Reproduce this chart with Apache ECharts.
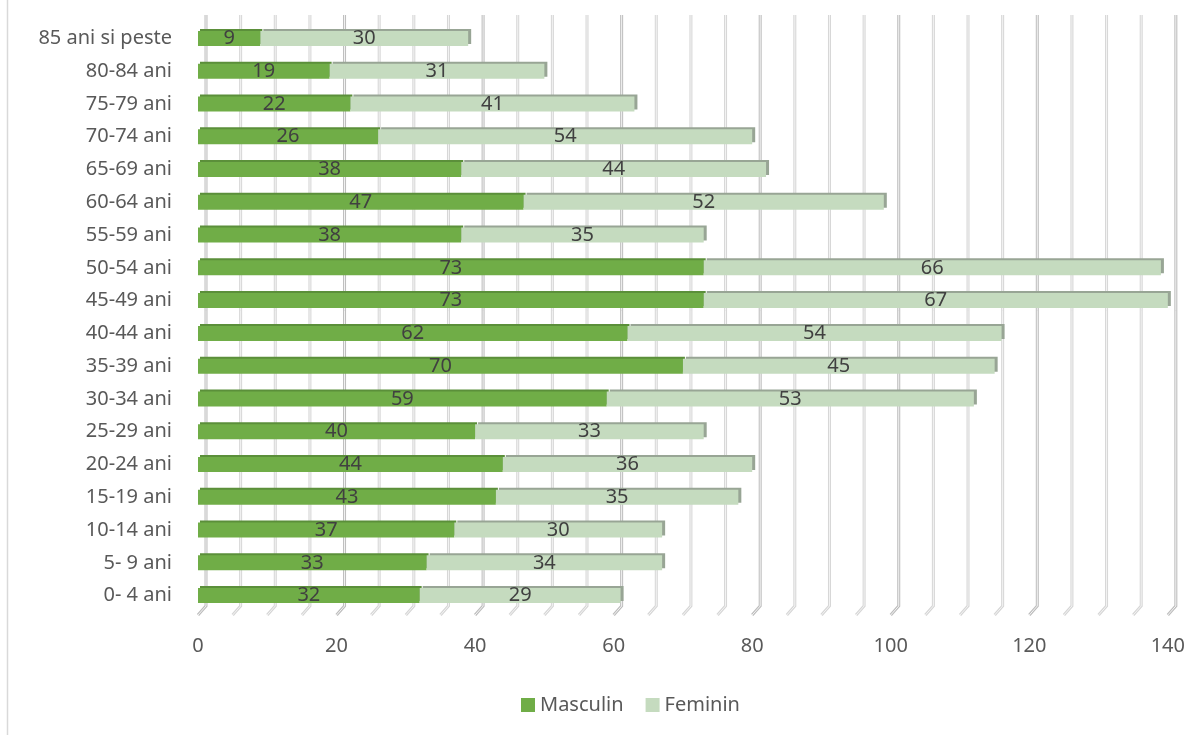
<!DOCTYPE html>
<html>
<head>
<meta charset="utf-8">
<script src="https://cdn.jsdelivr.net/npm/echarts@6/dist/echarts.min.js"></script>
<style>html,body{margin:0;padding:0;background:#fff}#c{width:1188px;height:735px}</style>
</head>
<body>
<div id="c"></div>
<script>
const categories = ["0- 4 ani","5- 9 ani","10-14 ani","15-19 ani","20-24 ani","25-29 ani","30-34 ani","35-39 ani","40-44 ani","45-49 ani","50-54 ani","55-59 ani","60-64 ani","65-69 ani","70-74 ani","75-79 ani","80-84 ani","85 ani si peste"];
const masculin = [32,33,37,43,44,40,59,70,62,73,73,38,47,38,26,22,19,9];
const feminin  = [29,34,30,35,36,33,53,45,54,67,66,35,52,44,54,41,31,30];
const gridTicks = [0,5,10,15,20,25,30,35,40,45,50,55,60,65,70,75,80,85,90,95,100,105,110,115,120,125,130,135,140];

const chart = echarts.init(document.getElementById('c'));
const font = "'Noto Sans', 'Open Sans', sans-serif";

chart.setOption({
  animation: false,
  textStyle: { fontFamily: font },
  graphic: [{
    type: 'line', shape: { x1: 7.5, y1: 0, x2: 7.5, y2: 735 },
    style: { stroke: '#d9d9d9', lineWidth: 1.5 }
  }],
  grid: { left: 198, right: 16, top: 22, bottom: 123, containLabel: false },
  legend: {
    left: 516, top: 690,
    icon: 'rect', itemWidth: 14, itemHeight: 14, itemGap: 22,
    textStyle: { fontSize: 20, color: '#595959', fontFamily: font },
    data: ['Masculin', 'Feminin']
  },
  xAxis: {
    type: 'value', min: 0, max: 140, interval: 20,
    axisLine: { show: false }, axisTick: { show: false },
    splitLine: { show: false },
    axisLabel: { fontSize: 20, color: '#595959', margin: 24, fontFamily: font }
  },
  yAxis: {
    type: 'category', data: categories,
    axisLine: { show: false }, axisTick: { show: false },
    axisLabel: { fontSize: 20, color: '#595959', margin: 26, fontFamily: font }
  },
  series: [
    {
      type: 'custom', name: 'grid3d', z: 1, silent: true,
      data: gridTicks.map(v => [v, 0]),
      encode: { x: 0, y: 1 },
      renderItem: function (params, api) {
        const v = api.value(0);
        const x = api.coord([v, 0])[0];
        const cs = params.coordSys;
        const yb = cs.y + cs.height + 3;
        const major = v % 20 === 0;
        const pts = [[x, yb], [x + 8, yb - 9], [x + 8, cs.y - 7]];
        return {
          type: 'group',
          children: [
            { type: 'polyline', shape: { points: pts }, style: { stroke: major ? '#bdbdbd' : '#d6d6d6', lineWidth: 3, fill: null } },
            { type: 'polyline', shape: { points: pts }, style: { stroke: '#f4f4f4', lineWidth: 1, fill: null } }
          ]
        };
      }
    },
    {
      name: 'Masculin', type: 'bar', stack: 'tot', z: 3, barWidth: 15,
      data: masculin,
      itemStyle: { color: '#70AD47', shadowColor: '#5b8f3a', shadowOffsetX: 2, shadowOffsetY: -2, shadowBlur: 0 },
      label: { show: true, position: 'inside', fontSize: 20, color: '#404040', fontFamily: font }
    },
    {
      name: 'Feminin', type: 'bar', stack: 'tot', z: 3, barWidth: 15,
      data: feminin,
      itemStyle: { color: '#C5DBBF', shadowColor: '#98a595', shadowOffsetX: 3, shadowOffsetY: -2, shadowBlur: 0 },
      label: { show: true, position: 'inside', fontSize: 20, color: '#404040', fontFamily: font }
    }
  ]
});
</script>
</body>
</html>
